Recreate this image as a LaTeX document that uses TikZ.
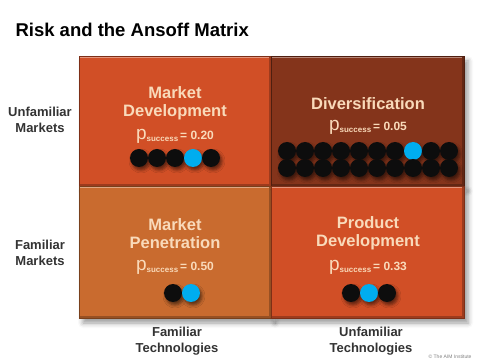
\documentclass[tikz,border=0pt]{standalone}
\usepackage{fontspec}
\setmainfont{Liberation Sans}
\usetikzlibrary{shapes}
\usetikzlibrary{shadows}
\usetikzlibrary{shadows.blur}
\usetikzlibrary{positioning}

\definecolor{rust}{HTML}{D14F26}
\definecolor{brick}{HTML}{84341B}
\definecolor{amber}{HTML}{C96B2F}
\definecolor{peach}{HTML}{F9DABA}
\definecolor{skyblue}{HTML}{00ADEF}
\definecolor{coal}{HTML}{0D0D0D}
\definecolor{ink}{HTML}{333333}

\newcommand{\psucc}[1]{{\fontsize{19}{19}\selectfont p}\raisebox{-2.5pt}{\fontsize{8}{8}\selectfont\bfseries success}\,{\bfseries = #1}}

\begin{document}
\begin{tikzpicture}[x=1pt, y=-1pt,
  cell/.style={rectangle, fill=#1, draw=#1!60!black, line width=0.8pt, inner sep=0pt,
    minimum width=192pt, minimum height=130pt,
    blur shadow={shadow xshift=4pt, shadow yshift=-5pt, shadow blur radius=5pt, shadow opacity=40},
    path picture={
      \fill[#1!60!white] (path picture bounding box.north west) rectangle ([yshift=-2pt]path picture bounding box.north east);
      \fill[#1!75!black] ([yshift=2pt]path picture bounding box.south west) rectangle (path picture bounding box.south east);
      \fill[#1!75!black] ([xshift=-2pt]path picture bounding box.north east) rectangle (path picture bounding box.south east);
    }},
  cellname/.style={font=\fontsize{16.5}{18}\selectfont\bfseries, text=peach, align=center},
  prob/.style={font=\fontsize{12}{12}\selectfont, text=peach},
  bead/.style={circle, fill=#1, minimum size=18pt, inner sep=0pt,
    blur shadow={shadow xshift=2pt, shadow yshift=-3pt, shadow blur radius=3pt, shadow opacity=55}},
  axis/.style={font=\fontsize{13}{16.5}\selectfont\bfseries, text=ink, align=center}]

  \useasboundingbox (0,0) rectangle (477,363);

  %% title
  \node[anchor=west, font=\fontsize{18.5}{20}\selectfont\bfseries] (title) at (12,30) {Risk and the Ansoff Matrix};

  %% the four cells
  \node[cell=rust]  (md) at (175,121) {};
  \node[cell=brick, minimum width=193pt] (dv) at (367.5,121) {};
  \node[cell=amber, minimum height=132pt] (mp) at (175,252) {};
  \node[cell=rust, minimum width=193pt, minimum height=132pt] (pd) at (367.5,252) {};

  %% names
  \node[cellname] (mdname) at (175,103) {Market\\Development};
  \node[cellname] (dvname) at (368,104) {Diversification};
  \node[cellname] (mpname) at (175,234) {Market\\Penetration};
  \node[cellname] (pdname) at (368,233) {Product\\Development};

  %% probabilities
  \node[prob] (mdprob) at (175,136) {\psucc{0.20}};
  \node[prob] (dvprob) at (368,127) {\psucc{0.05}};
  \node[prob] (mpprob) at (175,267) {\psucc{0.50}};
  \node[prob] (pdprob) at (368,267) {\psucc{0.33}};

  %% beads
  \foreach \i/\c in {0/coal,1/coal,2/coal,3/skyblue,4/coal}
    \node[bead=\c] (mdbead\i) at (139+18*\i,158) {};

  \foreach \i/\c in {0/coal,1/coal,2/coal,3/coal,4/coal,5/coal,6/coal,7/skyblue,8/coal,9/coal}
    \node[bead=\c] (dvtop\i) at (287+18*\i,151) {};
  \foreach \i in {0,...,9}
    \node[bead=coal] (dvbot\i) at (287+18*\i,168) {};

  \foreach \i/\c in {0/coal,1/skyblue}
    \node[bead=\c] (mpbead\i) at (173+18*\i,293) {};

  \foreach \i/\c in {0/coal,1/skyblue,2/coal}
    \node[bead=\c] (pdbead\i) at (351+18*\i,293) {};

  %% axis labels
  \node[axis] (unmarkets) at (40,120) {Unfamiliar\\Markets};
  \node[axis] (famarkets) at (40,253) {Familiar\\Markets};
  \node[axis] (fatech) at (177,341) {Familiar\\Technologies};
  \node[axis] (untech) at (371,341) {Unfamiliar\\Technologies};

  \node[anchor=east, font=\fontsize{5}{6}\selectfont, text=gray] (credit) at (475,357) {\textcopyright{} The AIM Institute};

\end{tikzpicture}
\end{document}
